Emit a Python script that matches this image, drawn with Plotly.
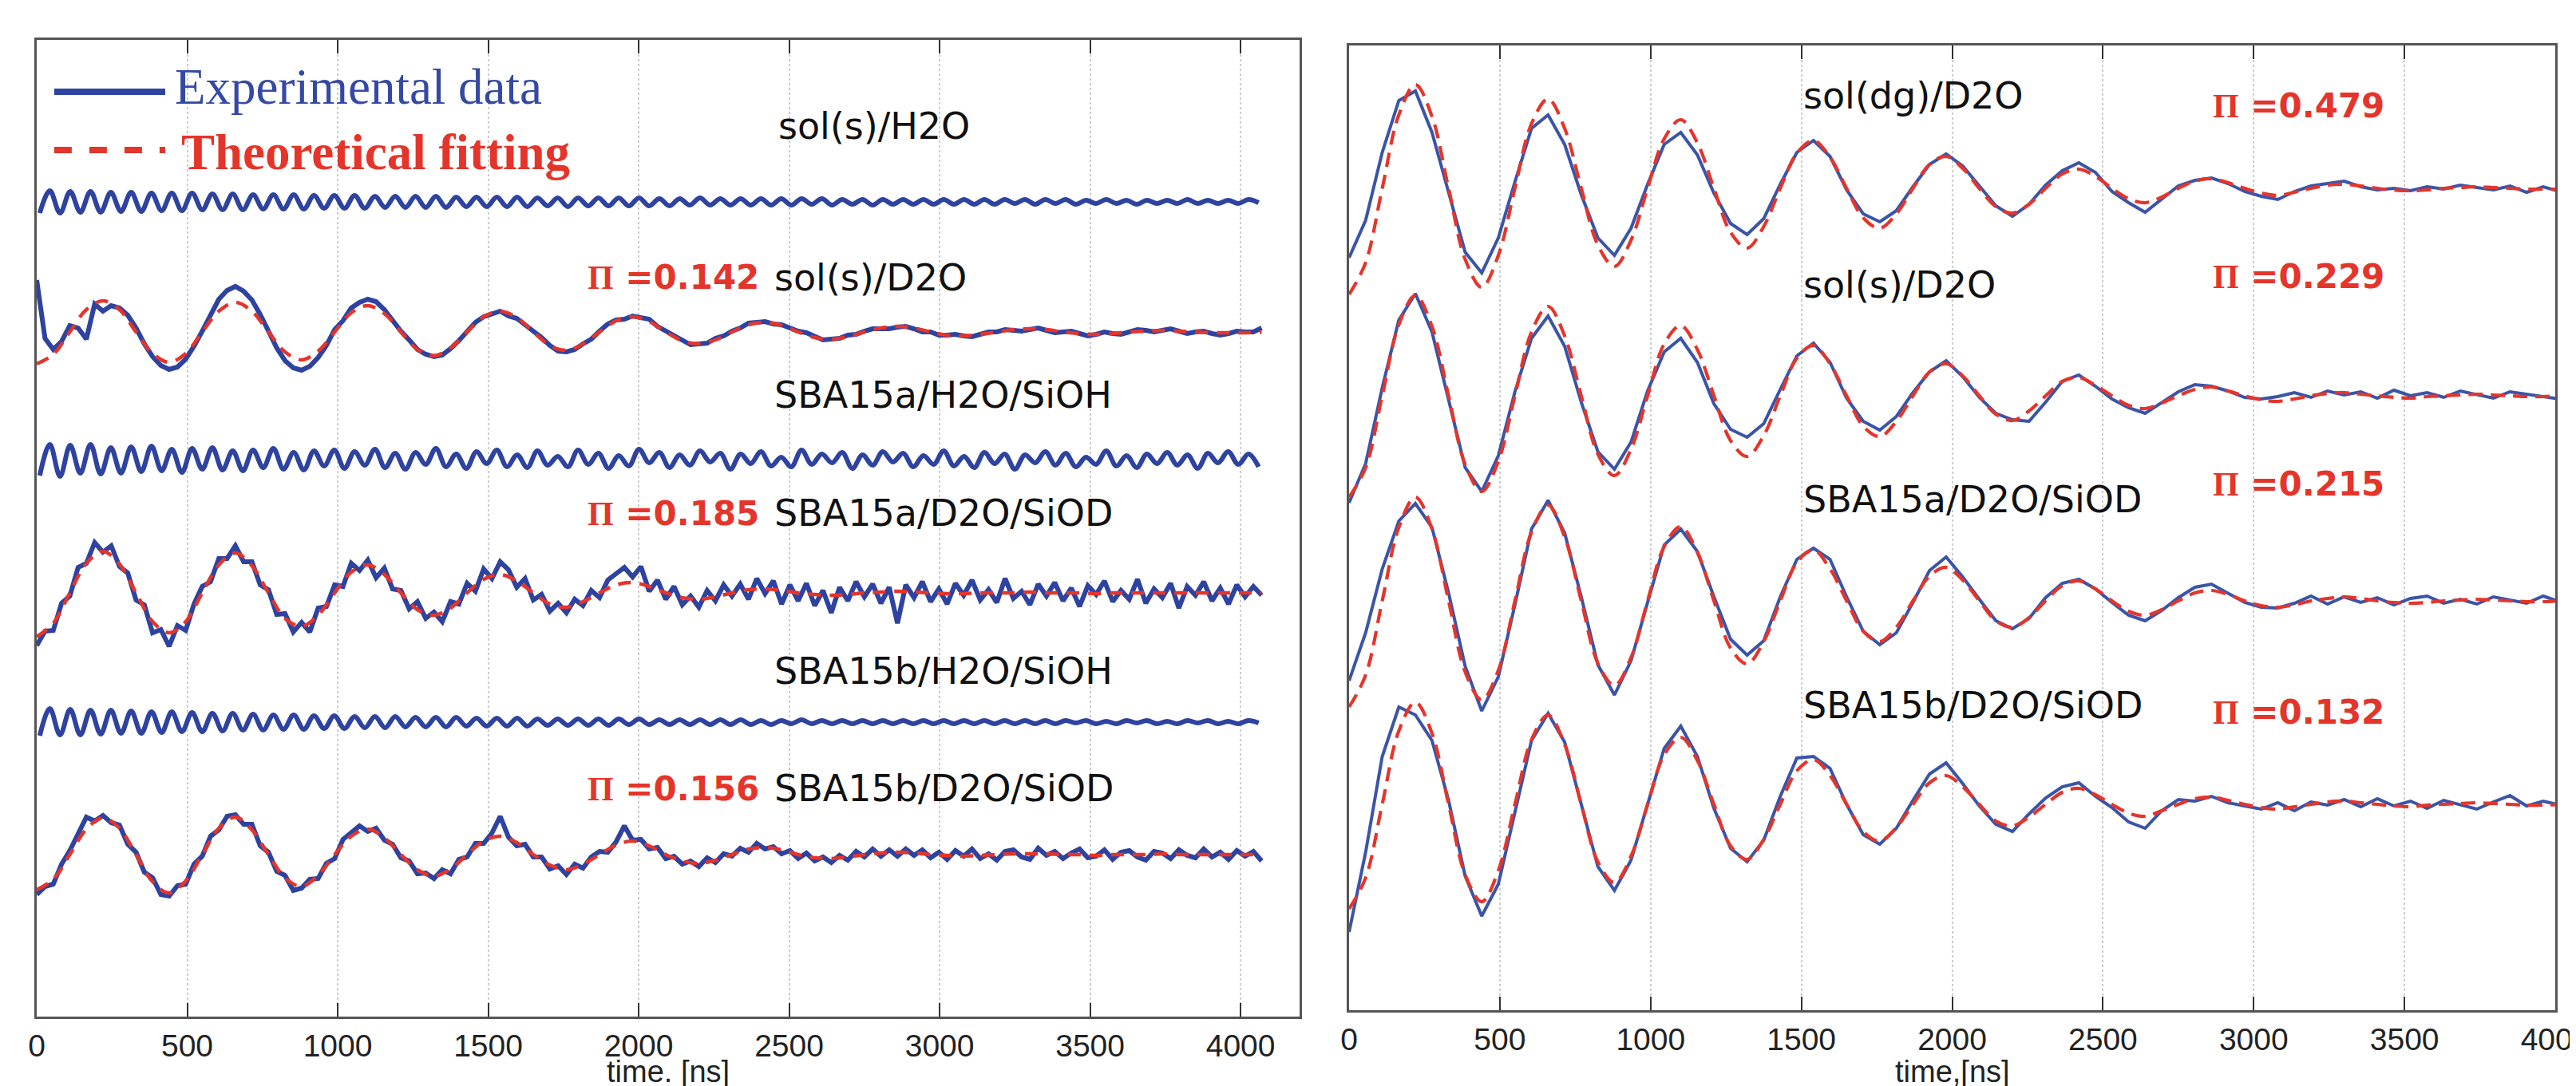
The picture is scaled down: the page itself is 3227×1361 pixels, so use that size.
import numpy as np
import plotly.graph_objects as go

# ---------------- data (signal values in a.u., upward positive) ----------------
# time grids (ns)
DT_FIT = 55.0      # fitted curves sampling
DT_EXP = 27.5      # left-panel D2O experimental sampling
DT_H2O = 33.75     # H2O traces: half-period sampling
T0_H2O = 10.0

tick_vals = [0, 500, 1000, 1500, 2000, 2500, 3000, 3500, 4000]
tick_text = ["0", "500", "1000", "1500", "2000", "2500", "3000", "3500", "4000"]
x_titles = ["time. [ns]", "time,[ns]"]

# ---- left panel ----
left_names = ["sol(s)/H2O", "sol(s)/D2O", "SBA15a/H2O/SiOH", "SBA15a/D2O/SiOD",
              "SBA15b/H2O/SiOH", "SBA15b/D2O/SiOD"]
left_baselines = [1021, 858, 698, 531, 369, 203]
left_pi = {"sol(s)/D2O": "0.142", "SBA15a/D2O/SiOD": "0.185", "SBA15b/D2O/SiOD": "0.156"}

h2o_sol_s = [
    -14, 14, -14, 13, -13, 13, -13, 12, -12, 12,
    -12, 11, -11, 11, -11, 11, -10, 10, -10, 10,
    -10, 9, -9, 9, -9, 9, -9, 8, -8, 8,
    -8, 8, -8, 7, -7, 7, -7, 7, -7, 7,
    -7, 6, -6, 6, -6, 6, -6, 6, -6, 5,
    -5, 5, -6, 5, -5, 5, -5, 5, -5, 5,
    -5, 4, -5, 4, -4, 5, -4, 4, -4, 4,
    -4, 4, -4, 4, -4, 4, -3, 4, -4, 3,
    -3, 3, -4, 3, -3, 3, -3, 3, -3, 3,
    -3, 3, -3, 3, -3, 3, -2, 3, -3, 3,
    -2, 3, -3, 2, -2, 3, -2, 2, -3, 2,
    -2, 2, -2, 3, -2, 2, -2, 2, -2, 3,
    -1]
h2o_sba15a = [
    -20, 19, -21, 18, -17, 19, -18, 15, -17, 16,
    -15, 17, -14, 13, -16, 14, -12, 15, -13, 11,
    -14, 12, -10, 14, -12, 9, -13, 11, -8, 12,
    -11, 10, -7, 13, -10, 8, -12, 9, -6, 14,
    -9, 7, -11, 10, -5, 12, -9, 6, -10, 11,
    -7, 4, -9, 12, -6, 8, -11, 5, -8, 13,
    -4, 9, -10, 6, -7, 11, -3, 8, -12, 7,
    -5, 10, -8, 3, -9, 12, -6, 7, -4, 9,
    -11, 6, -7, 10, -3, 8, -9, 5, -6, 11,
    -8, 4, -10, 9, -5, 7, -12, 6, -4, 10,
    -7, 8, -9, 3, -6, 11, -8, 5, -10, 7,
    -5, 9, -7, 6, -11, 8, -4, 10, -6, 7,
    -9]
h2o_sba15b = [
    -17, 17, -16, 16, -16, 15, -15, 15, -14, 14,
    -14, 13, -13, 13, -12, 12, -12, 11, -11, 11,
    -10, 10, -10, 9, -9, 9, -9, 8, -8, 8,
    -8, 7, -7, 7, -7, 7, -6, 6, -6, 6,
    -6, 6, -5, 5, -5, 5, -5, 5, -5, 4,
    -4, 4, -4, 4, -4, 4, -4, 4, -3, 4,
    -3, 3, -3, 3, -3, 3, -3, 3, -3, 3,
    -3, 2, -3, 2, -2, 3, -2, 2, -2, 2,
    -2, 2, -2, 2, -2, 2, -2, 2, -2, 2,
    -2, 2, -2, 2, -2, 2, -2, 2, -2, 2,
    -2, 2, -1, 2, -2, 1, -2, 2, -1, 2,
    -2, 1, -2, 2, -1, 2, -2, 1, -2, 2,
    -1]

exp_sol_s_d2o = [
    65, -8, -22, -12, 8, 5, -9, 35, 26, 33,
    30, 21, 5, -15, -31, -42, -47, -44, -34, -18,
    1, 22, 41, 52, 57, 51, 40, 22, 1, -20,
    -36, -45, -48, -43, -32, -17, 3, 14, 30, 37,
    41, 38, 28, 14, 1, -10, -22, -28, -31, -29,
    -21, -11, 1, 12, 19, 23, 26, 20, 17, 9,
    1, -7, -17, -24, -25, -22, -15, -9, 1, 10,
    15, 16, 20, 18, 16, 7, 1, -4, -11, -16,
    -15, -14, -8, -5, 1, 5, 11, 12, 13, 10,
    9, 5, 1, -1, -6, -10, -9, -8, -4, -3,
    1, 4, 4, 4, 6, 7, 4, 0, 0, -4,
    -4, -3, -5, -6, -3, 0, 0, 3, 2, 1,
    3, 5, 2, -1, 0, 1, -2, -5, -3, 0,
    -2, -3, 0, 3, 2, 0, 2, 4, 1, -2,
    0, 1, -2, -4, -2, 1, 0, 0, 5]
fit_sol_s_d2o = [
    -40, -28, 0, 28, 39, 28, 0, -27, -38, -27,
    0, 26, 37, 26, 0, -25, -35, -24, 0, 24,
    33, 23, 0, -22, -30, -20, 0, 19, 26, 18,
    0, -17, -23, -15, 0, 14, 19, 13, 0, -11,
    -15, -10, 0, 9, 12, 8, 0, -7, -9, -6,
    0, 5, 7, 5, 0, -4, -5, -3, 0, 3,
    4, 3, 0, -2, -3, -2, 0, 1, 2, 1,
    0, -1, -1, -1, 0]

exp_sba15a_d2o = [
    -66, -48, -47, -13, -4, 32, 37, 63, 51, 59,
    33, 25, -9, -15, -50, -46, -67, -41, -47, -14,
    8, 14, 43, 43, 59, 39, 39, 10, 4, -27,
    -26, -49, -37, -49, -19, -17, 10, 8, 37, 28,
    41, 19, 31, 5, 3, -20, -11, -32, -24, -36,
    -11, -14, 12, 2, 30, 18, 39, 29, 7, 18,
    -9, -2, -23, -13, -25, -8, -16, 3, -6, 16,
    24, 32, 20, 33, 2, 16, -8, 8, -15, -4,
    -18, 3, -10, 10, -4, 11, -8, 18, -1, 15,
    -14, 10, -10, 12, -16, 3, -25, 7, -10, 14,
    -5, 11, -13, 7, -38, 10, -6, 14, -11, 5,
    -14, 12, -3, 16, -9, 4, -12, 18, -7, 2,
    -15, 11, -4, 13, -10, 6, -17, 9, -2, 15,
    -11, 3, -8, 17, -13, 5, -6, 12, -19, 8,
    -3, 14, -10, 6, -14, 10, -5, 8, -3]
fit_sba15a_d2o = [
    -55, -38, 0, 37, 52, 36, 0, -36, -50, -36,
    0, 35, 50, 34, 0, -32, -42, -28, 0, 26,
    35, 23, 0, -21, -28, -19, 0, 17, 23, 15,
    0, -14, -18, -11, 0, 10, 13, 8, 0, -6,
    -8, -5, 0, 4, 5, 3, 0, -2, -3, -2,
    0, 1, 2, 1, 0, -1, -1, 0, 0, 0,
    1, 0, 0, 0, -1, 0, 0, 0, 0, 0,
    0, 0, 0, 0, 0]

exp_sba15b_d2o = [
    -50, -40, -37, -12, 5, 26, 47, 42, 49, 40,
    37, 13, 3, -22, -29, -50, -52, -39, -37, -12,
    -2, 23, 31, 48, 50, 38, 38, 11, 3, -21,
    -26, -45, -42, -31, -30, -11, -5, 19, 27, 36,
    29, 33, 18, 13, -4, -8, -24, -23, -30, -19,
    -24, -6, -3, 14, 14, 27, 48, 22, 11, 13,
    -3, -3, -18, -14, -25, -12, -17, -3, 4, 3,
    16, 36, 18, 19, 7, 9, -5, -2, -12, -8,
    -15, -4, -10, 1, -2, 8, 3, 14, 7, 10,
    1, 5, -5, 2, -8, -3, -10, -1, -7, 4,
    -3, 7, -2, 6, -2, 7, -1, 6, -4, 3,
    -6, 5, -2, 7, -5, 1, -7, 4, 6, -3,
    -6, 8, -1, 4, -5, 2, 7, -4, -2, 6,
    -6, 3, 5, -3, -7, 4, 2, -5, 6, -1,
    -4, 7, -3, 3, -6, 5, -2, 4, -8]
fit_sba15b_d2o = [
    -44, -31, 0, 32, 46, 33, 0, -34, -48, -33,
    0, 33, 47, 31, 0, -29, -40, -26, 0, 23,
    32, 21, 0, -19, -27, -18, 0, 17, 23, 15,
    0, -13, -19, -12, 0, 12, 17, 11, 0, -8,
    -11, -7, 0, 7, 9, 6, 0, -4, -5, -3,
    0, 2, 3, 2, 0, -1, -2, -1, 0, 1,
    1, 1, 0, 0, -1, 0, 0, 0, 1, 0,
    0, 0, 0, 0, 0]

# ---- right panel ----
right_names = ["sol(dg)/D2O", "sol(s)/D2O", "SBA15a/D2O/SiOD", "SBA15b/D2O/SiOD"]
right_pi = ["0.479", "0.229", "0.215", "0.132"]
right_baselines = [1030, 770, 513, 258]

exp_r_soldg = [
    -87, -40, 45, 110, 122, 70, -5, -80, -106, -62,
    8, 75, 92, 55, -8, -62, -84, -50, 5, 55,
    70, 42, -6, -44, -58, -38, 5, 45, 60, 40,
    -2, -32, -42, -28, 2, 30, 43, 28, 3, -22,
    -35, -20, 4, 22, 32, 20, -4, -18, -30, -14,
    3, 10, 13, 6, -4, -10, -14, -4, 3, 6,
    9, 2, -2, 0, -3, 2, -1, 4, 1, -2,
    3, -5, 2, -4]
fit_r_soldg = [
    -133, -93, 0, 92, 130, 90, 0, -89, -124, -84,
    0, 81, 112, 75, 0, -71, -98, -65, 0, 62,
    86, 57, 0, -55, -75, -48, 0, 44, 60, 39,
    0, -37, -50, -32, 0, 30, 40, 25, 0, -23,
    -31, -20, 0, 18, 24, 15, 0, -13, -18, -11,
    0, 9, 12, 7, 0, -6, -9, -5, 0, 4,
    5, 3, 0, -2, -3, -2, 0, 1, 2, 1,
    0, -1, -1, -1]
exp_r_sols = [
    -134, -85, 10, 95, 128, 80, -5, -90, -120, -75,
    5, 72, 100, 62, -8, -70, -92, -58, 6, 55,
    72, 42, -10, -42, -52, -35, 8, 50, 66, 42,
    -3, -32, -43, -26, 4, 30, 44, 24, -2, -22,
    -30, -32, -8, 18, 26, 12, -4, -15, -22, -8,
    5, 14, 12, 6, -2, -4, -1, 4, -2, 6,
    1, 5, -3, 7, 0, 4, -2, 6, 1, -3,
    5, 2, -2, -4]
fit_r_sols = [
    -127, -90, 0, 89, 126, 87, 0, -86, -120, -82,
    0, 80, 112, 75, 0, -73, -100, -67, 0, 65,
    88, 58, 0, -56, -76, -50, 0, 47, 63, 40,
    0, -38, -51, -32, 0, 30, 40, 25, 0, -23,
    -31, -19, 0, 18, 23, 13, 0, -12, -16, -9,
    0, 8, 11, 6, 0, -5, -7, -4, 0, 3,
    4, 2, 0, -2, -3, -1, 0, 1, 2, 1,
    0, -1, -1, 0]
exp_r_sba15a = [
    -100, -40, 40, 100, 122, 92, 10, -82, -138, -95,
    -5, 90, 126, 85, 5, -80, -118, -75, -2, 70,
    90, 62, 5, -48, -68, -50, 5, 52, 66, 52,
    5, -38, -55, -40, -2, 38, 55, 30, 2, -25,
    -35, -22, 4, 22, 27, 15, -2, -18, -25, -12,
    4, 17, 21, 10, -2, -8, -9, -3, 6, -4,
    5, -2, 4, -5, 3, 6, -3, 2, -4, 5,
    1, -3, 6, -1]
fit_r_sba15a = [
    -133, -93, 0, 92, 130, 90, 0, -89, -124, -87,
    0, 86, 120, 80, 0, -78, -106, -71, 0, 68,
    93, 61, 0, -59, -79, -51, 0, 48, 64, 40,
    0, -38, -51, -33, 0, 31, 42, 26, 0, -25,
    -33, -21, 0, 19, 25, 15, 0, -13, -18, -11,
    0, 10, 13, 8, 0, -6, -8, -5, 0, 3,
    5, 3, 0, -2, -3, -2, 0, 1, 2, 1,
    0, -1, -1, 0]
exp_r_sba15b = [
    -160, -60, 60, 122, 112, 80, 5, -90, -140, -100,
    -10, 80, 114, 78, 0, -78, -108, -70, 0, 70,
    98, 60, -5, -55, -72, -45, 10, 58, 60, 45,
    0, -38, -50, -30, 5, 38, 52, 26, -2, -25,
    -34, -12, 8, 22, 27, 10, -4, -22, -30, -8,
    6, 4, 10, 2, -2, -6, 2, -8, 3, -1,
    6, -3, 7, -2, 4, -5, 5, -1, -6, 3,
    11, -2, 4, -1]
fit_r_sba15b = [
    -131, -92, 0, 92, 128, 89, 0, -88, -122, -83,
    0, 81, 112, 75, 0, -72, -98, -65, 0, 62,
    84, 55, 0, -52, -69, -44, 0, 42, 56, 36,
    0, -34, -46, -29, 0, 27, 36, 22, 0, -21,
    -27, -16, 0, 15, 20, 12, 0, -11, -15, -8,
    0, 7, 9, 5, 0, -4, -6, -3, 0, 3,
    4, 2, 0, -2, -3, -1, 0, 1, 2, 1,
    0, -1, -1, 0]

# ---------------- styling ----------------
W, H = 3227, 1361
BLUE = "#2e43a0"
BLUE_R = "#3a54a8"
RED = "#e5352b"
SANS = "DejaVu Sans"
TICKF = "Liberation Sans"
SERIF = "Liberation Serif"

fig = go.Figure()


def add_line(x, base, vals, color, width, dash=None, shape="linear", xa="x", ya="y"):
    y = [base + v for v in vals]
    fig.add_trace(go.Scatter(
        x=x, y=y, mode="lines", xaxis=xa, yaxis=ya, showlegend=False,
        line=dict(color=color, width=width, dash=dash, shape=shape,
                  smoothing=1.0 if shape == "spline" else None),
        hoverinfo="skip"))


def t_grid(vals, step, t0=0.0):
    return t0 + step * np.arange(len(vals))


# left panel traces
h2o_sets = [(0, h2o_sol_s), (2, h2o_sba15a), (4, h2o_sba15b)]
for idx, vals in h2o_sets:
    add_line(t_grid(vals, DT_H2O, T0_H2O), left_baselines[idx], vals, BLUE, 6.0, shape="spline")

d2o_sets = [(1, exp_sol_s_d2o, fit_sol_s_d2o),
            (3, exp_sba15a_d2o, fit_sba15a_d2o),
            (5, exp_sba15b_d2o, fit_sba15b_d2o)]
for idx, ev, fv in d2o_sets:
    add_line(t_grid(ev, DT_EXP), left_baselines[idx], ev, BLUE, 6.0)
    add_line(t_grid(fv, DT_FIT), left_baselines[idx], fv, RED, 4.5, dash="16px,11px", shape="spline")

# right panel traces
r_sets = [(exp_r_soldg, fit_r_soldg), (exp_r_sols, fit_r_sols),
          (exp_r_sba15a, fit_r_sba15a), (exp_r_sba15b, fit_r_sba15b)]
for k, (ev, fv) in enumerate(r_sets):
    add_line(t_grid(ev, DT_FIT), right_baselines[k], ev, BLUE_R, 4.0, xa="x2", ya="y2")
    add_line(t_grid(fv, DT_FIT), right_baselines[k], fv, RED, 4.2, dash="18px,10px",
             shape="spline", xa="x2", ya="y2")

# ---------------- axes ----------------
def xax(domain, rng):
    return dict(domain=domain, range=rng, tickmode="array", tickvals=tick_vals, ticktext=tick_text,
                ticks="inside", ticklen=17, tickwidth=2, tickcolor="#333",
                showline=True, linecolor="#555", linewidth=2.5, mirror="ticks",
                showgrid=True, gridcolor="#cdcdcd", griddash="dot", gridwidth=1.6,
                zeroline=False, tickfont=dict(family=TICKF, size=39, color="#222"),
                ticklabelstandoff=0, ticklabeloverflow="allow", automargin=False)


def yax(domain, rng, anchor):
    return dict(domain=domain, range=rng, showticklabels=False, ticks="", showgrid=False,
                zeroline=False, showline=True, linecolor="#555", linewidth=2.5, mirror=True,
                anchor=anchor, fixedrange=True, automargin=False)


fig.update_layout(
    width=W, height=H, margin=dict(l=0, r=0, t=0, b=0, autoexpand=False),
    paper_bgcolor="white", plot_bgcolor="white", showlegend=False,
    xaxis=dict(**xax([38 / W, 1620 / W], [0, 4196]), anchor="y"),
    yaxis=yax([1 - 1266 / H, 1 - 42 / H], [0, 1224], "x"),
    xaxis2=dict(**xax([1682 / W, 3193 / W], [0, 4000]), anchor="y2"),
    yaxis2=yax([1 - 1258 / H, 1 - 49 / H], [0, 1209], "x2"),
)

# ---------------- annotations ----------------
ann = []


def pi_text(v):
    return ('<b><span style="font-family:Liberation Serif;">\u03a0</span> =' + v + '</b>')


left_label_y = [1116, 926, 779, 631, 433, 286]
for i, name in enumerate(left_names):
    ann.append(dict(x=2445 if i else 2460, y=left_label_y[i], xref="x", yref="y", text=name,
                    showarrow=False, xanchor="left", yanchor="middle",
                    font=dict(family=SANS, size=46, color="#111")))
    if name in left_pi:
        ann.append(dict(x=2405, y=left_label_y[i], xref="x", yref="y", text=pi_text(left_pi[name]),
                        showarrow=False, xanchor="right", yanchor="middle",
                        font=dict(family=SANS, size=42, color=RED)))

right_label_y = [1146, 909, 640, 382]
right_pi_y = [1134, 920, 660, 374]
for k, name in enumerate(right_names):
    ann.append(dict(x=1500, y=right_label_y[k], xref="x2", yref="y2", text=name,
                    showarrow=False, xanchor="left", yanchor="middle",
                    font=dict(family=SANS, size=46, color="#111")))
    ann.append(dict(x=2860, y=right_pi_y[k], xref="x2", yref="y2", text=pi_text(right_pi[k]),
                    showarrow=False, xanchor="left", yanchor="middle",
                    font=dict(family=SANS, size=42, color=RED)))

# axis titles (x-axis titles under each panel)
for ref, title in zip(["x domain", "x2 domain"], x_titles):
    ann.append(dict(x=0.5, y=1 - 1335 / H, xref=ref, yref="paper", text=title,
                    showarrow=False, xanchor="center", yanchor="middle",
                    font=dict(family=TICKF, size=38, color="#222")))

# legend (drawn in the left panel)
ann.append(dict(x=454, y=1165, xref="x", yref="y", text="Experimental data", showarrow=False,
                xanchor="left", yanchor="middle", font=dict(family=SERIF, size=63, color="#3449a4")))
ann.append(dict(x=475, y=1083, xref="x", yref="y", text="<b>Theoretical fitting</b>", showarrow=False,
                xanchor="left", yanchor="middle", font=dict(family=SERIF, size=63, color=RED)))
fig.update_layout(annotations=ann)

fig.update_layout(shapes=[
    dict(type="line", xref="x", yref="y", x0=58, x1=427, y0=1159, y1=1159,
         line=dict(color=BLUE, width=8)),
    dict(type="line", xref="x", yref="y", x0=58, x1=427, y0=1086, y1=1086,
         line=dict(color=RED, width=8, dash="22px,22px")),
])

fig.write_html("out.html")
